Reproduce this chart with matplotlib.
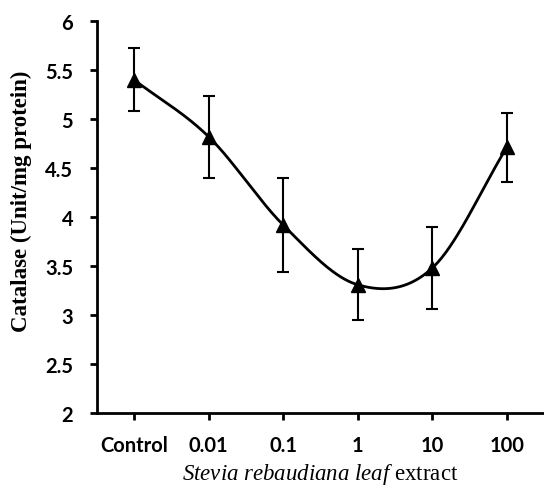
import numpy as np
import matplotlib
matplotlib.use('Agg')
import matplotlib.pyplot as plt

plt.rcParams['mathtext.fontset'] = 'custom'
plt.rcParams['mathtext.it'] = 'Liberation Serif:italic'
plt.rcParams['mathtext.rm'] = 'Liberation Serif'

# ── Data ──────────────────────────────────────────────────────────────────────
doses = ["Control", "0.01", "0.1", "1", "10", "100"]
catalase = [5.40, 4.82, 3.92, 3.31, 3.48, 4.71]
errors = [0.32, 0.42, 0.48, 0.36, 0.42, 0.35]


def smooth_curve(x, y, n=40):
    # Catmull-Rom style smoothing (like a spreadsheet "smoothed line")
    x = np.asarray(x, float)
    y = np.asarray(y, float)
    px = np.concatenate([[2 * x[0] - x[1]], x, [2 * x[-1] - x[-2]]])
    py = np.concatenate([[2 * y[0] - y[1]], y, [2 * y[-1] - y[-2]]])
    xs, ys = [], []
    for i in range(1, len(px) - 2):
        t = np.linspace(0, 1, n)
        p0, p1, p2, p3 = [np.array([px[j], py[j]]) for j in range(i - 1, i + 3)]
        c1 = p1 + (p2 - p0) / 6
        c2 = p2 - (p3 - p1) / 6
        b = ((1 - t) ** 3)[:, None] * p1 + (3 * (1 - t) ** 2 * t)[:, None] * c1 \
            + (3 * (1 - t) * t ** 2)[:, None] * c2 + (t ** 3)[:, None] * p2
        xs.append(b[:, 0])
        ys.append(b[:, 1])
    return np.concatenate(xs), np.concatenate(ys)


# ── Plot ──────────────────────────────────────────────────────────────────────
fig = plt.figure(figsize=(5.44, 4.89), dpi=100)
ax = fig.add_axes([0.178, 0.153, 0.822, 0.802])

xpos = np.arange(len(doses))
sx, sy = smooth_curve(xpos, catalase)
ax.plot(sx, sy, color='black', lw=2.0, zorder=3)
ax.errorbar(xpos, catalase, yerr=errors, fmt='^', color='black', ms=10,
            ecolor='black', elinewidth=1.5, capsize=4, capthick=1.5, zorder=4)

ax.set_xlim(-0.5, 5.5)
ax.set_ylim(2, 6)
ax.set_yticks(np.arange(2, 6.01, 0.5))
ax.set_yticklabels(['2', '2.5', '3', '3.5', '4', '4.5', '5', '5.5', '6'])
ax.set_xticks(xpos)
ax.set_xticklabels(doses)

for lab in ax.get_xticklabels() + ax.get_yticklabels():
    lab.set_fontfamily('Lato')
    lab.set_fontweight('bold')
    lab.set_fontsize(14.5)

ax.tick_params(axis='both', direction='out', length=5, width=2)
ax.tick_params(axis='x', pad=11)
ax.tick_params(axis='y', pad=12)

for s in ['top', 'right']:
    ax.spines[s].set_visible(False)
for s in ['left', 'bottom']:
    ax.spines[s].set_linewidth(2)

ax.set_ylabel('Catalase (Unit/mg protein)', fontfamily='Liberation Serif',
              fontweight='bold', fontsize=16.5)
ax.yaxis.set_label_coords(-0.145, 0.543)
ax.set_xlabel(r'$\it{Stevia\ rebaudiana\ leaf}$ extract', fontsize=16.5,
              fontfamily='Liberation Serif', labelpad=4)

fig.savefig('out.png', dpi=100)
